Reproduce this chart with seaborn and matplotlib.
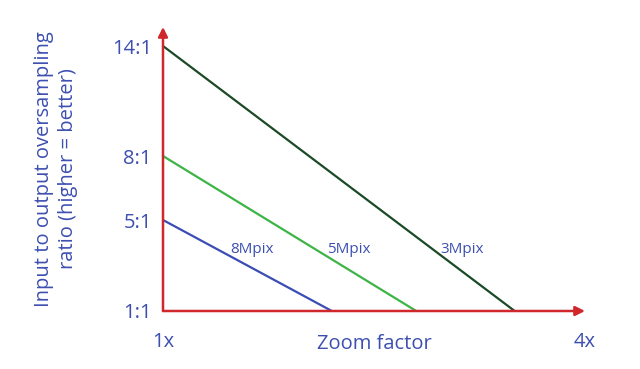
import numpy as np
import pandas as pd
import seaborn as sns
import matplotlib.pyplot as plt

# chart values
series = ["8Mpix", "5Mpix", "3Mpix"]
start_ratio = [5, 8, 14]          # oversampling ratio at 1x zoom
end_zoom = [2.2, 2.8, 3.5]        # zoom factor where ratio reaches 1:1
colors = ["#3a4db5", "#3db446", "#1b4a26"]
label_x = [1.63, 2.32, 3.13]
ytick_vals = [1, 5, 8, 14]
ytick_labels = ["1:1", "5:1", "8:1", "14:1"]
xtick_vals = [1, 4]
xtick_labels = ["1x", "4x"]

rows = []
for s, r0, z1 in zip(series, start_ratio, end_zoom):
    rows.append({"series": s, "zoom": 1.0, "ratio": r0})
    rows.append({"series": s, "zoom": z1, "ratio": 1.0})
df = pd.DataFrame(rows)

sns.set_theme(style="white")
plt.rcParams["font.family"] = ["Open Sans", "DejaVu Sans"]
text_blue = "#3d4fb0"
axis_red = "#d0272d"

# the reference's y axis is schematic (not linear): piecewise-linear scale
knots_r = np.array([0, 1, 5, 8, 14, 20])
knots_h = np.array([-22.75, 0, 91, 155, 265, 375])
def fwd(v):
    return np.interp(v, knots_r, knots_h)
def inv(v):
    return np.interp(v, knots_h, knots_r)

fig = plt.figure(figsize=(6.4, 3.69), dpi=100)
ax = fig.add_axes([163 / 640, 58 / 369, (585 - 163) / 640, (342 - 58) / 369])
ax.set_yscale("function", functions=(fwd, inv))

sns.lineplot(data=df, x="zoom", y="ratio", hue="series", hue_order=series,
             palette=colors, linewidth=1.6, legend=False, ax=ax)

ax.set_xlim(1, 4)
ax.set_ylim(1, inv(284))

for s, lx in zip(series, label_x):
    ax.text(lx, 3.7, s, color=text_blue, fontsize=11, ha="center", va="center")

sns.despine(ax=ax, top=True, right=True, left=True, bottom=True)
ax.grid(False)
# red axes with arrow heads
arrow = dict(arrowstyle="-|>", color=axis_red, lw=1.8,
             mutation_scale=14, shrinkA=0, shrinkB=0)
ax.annotate("", xy=(0, 1), xycoords="axes fraction", xytext=(0, 0),
            arrowprops=arrow)
ax.annotate("", xy=(1, 0), xycoords="axes fraction", xytext=(0, 0),
            arrowprops=arrow)

ax.set_yticks(ytick_vals)
ax.set_yticklabels(ytick_labels)
ax.set_xticks(xtick_vals)
ax.set_xticklabels(xtick_labels)
ax.tick_params(axis="both", length=0, labelsize=14.5, labelcolor=text_blue)
ax.tick_params(axis="y", pad=8)
ax.tick_params(axis="x", pad=15)
ax.minorticks_off()

ax.set_xlabel("Zoom factor", fontsize=14.5, color=text_blue, labelpad=-13)
ax.set_ylabel("Input to output oversampling\nratio (higher = better)",
              fontsize=14.5, color=text_blue, labelpad=24, linespacing=1.3)

fig.savefig("out.png", dpi=100)
